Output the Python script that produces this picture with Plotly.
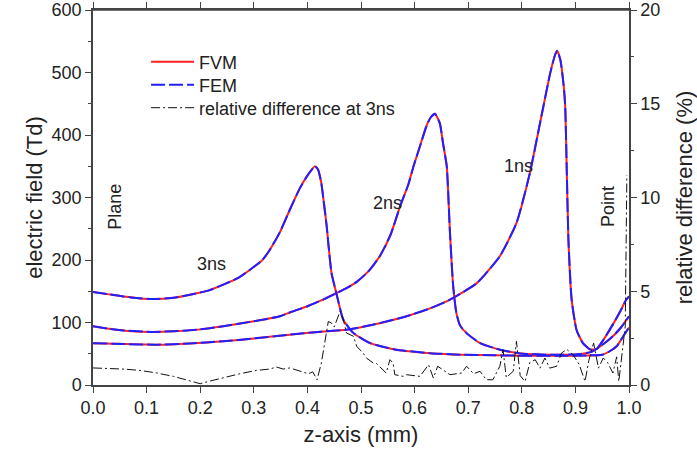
import plotly.graph_objects as go

# ---- data ----
x_3ns = [0.0, 0.03, 0.057, 0.085, 0.112, 0.15, 0.181, 0.215, 0.243, 0.27, 0.293, 0.315, 0.33, 0.349,
         0.367, 0.386, 0.40, 0.414, 0.42, 0.426, 0.43, 0.436, 0.439, 0.445, 0.454, 0.467, 0.486, 0.517,
         0.566, 0.629, 0.685, 0.75, 0.8, 0.85, 0.9, 0.95, 0.964, 0.977, 0.993, 1.0]
e_3ns = [149, 145, 141.5, 139, 137.5, 139.5, 144.5, 151, 160.5, 171, 184.5, 199, 216.5, 245,
         280, 315, 335, 350, 344.5, 323, 296.5, 254, 227, 179, 147, 104.5, 83, 67,
         56.5, 51, 48.5, 47.5, 47, 47, 47, 48.5, 54, 62, 83, 92]

x_2ns = [0.0, 0.03, 0.06, 0.112, 0.15, 0.2, 0.243, 0.3, 0.349, 0.367, 0.40, 0.43, 0.454, 0.473, 0.492,
         0.515, 0.535, 0.555, 0.573, 0.588, 0.598, 0.61, 0.622, 0.63, 0.638, 0.647, 0.653, 0.66, 0.666,
         0.672, 0.678, 0.685, 0.697, 0.722, 0.759, 0.803, 0.85, 0.9, 0.93, 0.95, 0.97, 0.985, 1.0]
e_2ns = [94, 90, 87, 85, 86, 89, 94, 102, 110, 116, 126, 137, 147, 155, 165,
         183, 206, 240, 286, 320, 350, 382, 414, 428, 434, 419, 387, 350, 243,
         158, 115, 95, 83, 67, 56.5, 50, 48.5, 49, 53, 64, 78, 92, 110]

x_1ns = [0.0, 0.06, 0.119, 0.18, 0.243, 0.3, 0.367, 0.42, 0.473, 0.52, 0.585, 0.63, 0.666, 0.716,
         0.759, 0.79, 0.815, 0.834, 0.853, 0.862, 0.866, 0.872, 0.878, 0.881, 0.884, 0.887, 0.893,
         0.902, 0.914, 0.927, 0.94, 0.952, 0.97, 0.985, 0.993, 1.0]
e_1ns = [67, 65.5, 64.5, 66.5, 70, 74.5, 80.5, 85, 88.5, 96, 110, 123, 136.5, 163,
         206, 259, 339, 419, 499, 528, 535, 520, 480, 446, 339, 232, 136.5,
         88.5, 67, 57, 58, 72, 97, 120, 134, 142]

x_diff = [0.0, 0.025, 0.056, 0.0875, 0.119, 0.15, 0.175, 0.2, 0.224, 0.249, 0.274, 0.305, 0.33, 0.342,
          0.355, 0.367, 0.386, 0.402, 0.41, 0.418, 0.426, 0.439, 0.445, 0.45, 0.461, 0.467, 0.473, 0.486,
          0.492, 0.504, 0.51, 0.523, 0.528, 0.547, 0.554, 0.56, 0.563, 0.579, 0.585, 0.61, 0.626, 0.635,
          0.643, 0.655, 0.666, 0.688, 0.697, 0.71, 0.722, 0.734, 0.746, 0.759, 0.765, 0.771, 0.784, 0.79,
          0.797, 0.806, 0.815, 0.825, 0.834, 0.843, 0.852, 0.865, 0.874, 0.884, 0.896, 0.907, 0.918,
          0.925, 0.934, 0.943, 0.952, 0.96, 0.97, 0.977, 0.981, 0.993, 0.996]
d_diff = [0.91, 0.9, 0.85, 0.78, 0.64, 0.46, 0.25, 0.07, 0.25, 0.43, 0.6, 0.78, 0.85, 0.96,
          0.85, 0.91, 0.73, 0.6, 0.7, 0.28, 1.17, 3.39, 3.3, 3.1, 3.93, 3.48, 2.77, 2.6,
          2.06, 1.7, 1.44, 1.17, 1.17, 0.64, 1.35, 1.17, 0.55, 0.46, 0.55, 0.46, 1.08, 0.37,
          1.0, 0.75, 0.55, 0.64, 1.0, 0.6, 0.73, 0.28, 0.28, 1.0, 1.88, 0.4, 0.73, 2.33,
          0.5, 0.19, 1.2, 1.35, 0.9, 1.44, 0.9, 1.0, 1.7, 1.9, 1.6, 1.1, 0.19,
          1.3, 2.24, 0.9, 1.44, 1.2, 0.64, 1.5, 0.19, 3.13, 11.2]

x_ticks = [0.0, 0.1, 0.2, 0.3, 0.4, 0.5, 0.6, 0.7, 0.8, 0.9, 1.0]

FONT = "Liberation Sans, Arial, sans-serif"
RED = "#ff2020"
BLUE = "#2020ff"
AXC = "#444444"

fig = go.Figure()

curves = [(x_1ns, e_1ns), (x_2ns, e_2ns), (x_3ns, e_3ns)]
for i, (xs, ys) in enumerate(curves):
    fig.add_trace(go.Scatter(x=xs, y=ys, mode="lines", name="FVM", showlegend=(i == 0),
                             legend="legend",
                             line=dict(color=RED, width=2, shape="spline", smoothing=0.5)))
for i, (xs, ys) in enumerate(curves):
    fig.add_trace(go.Scatter(x=xs, y=ys, mode="lines", name="FEM", showlegend=(i == 0),
                             legend="legend2",
                             line=dict(color=BLUE, width=2, dash="14px,4px", shape="spline", smoothing=0.5)))

fig.add_trace(go.Scatter(x=x_diff, y=d_diff, mode="lines", name="relative difference at 3ns",
                         yaxis="y2", legend="legend3",
                         line=dict(color="#111111", width=1, dash="9px,3px,2px,3px")))

axis_common = dict(showline=True, linecolor=AXC, linewidth=1.5, ticks="outside",
                   tickcolor=AXC, ticklen=6, tickwidth=1.2, showgrid=False, zeroline=False,
                   automargin=False,
                   tickfont=dict(family=FONT, size=18, color="#222222"))

LX = 0.099
leg_common = dict(x=LX, xanchor="left", yanchor="middle", bgcolor="rgba(0,0,0,0)",
                  font=dict(family=FONT, size=18, color="#222222"), itemwidth=43)

fig.update_layout(
    width=697, height=454,
    margin=dict(l=93, r=68, t=10, b=69, autoexpand=False),
    paper_bgcolor="white", plot_bgcolor="white",
    font=dict(family=FONT, size=18, color="#222222"),
    xaxis=dict(range=[0, 1], tickvals=x_ticks, ticktext=[f"{v:.1f}" for v in x_ticks],
               mirror="ticks", title=dict(text="z-axis (mm)", font=dict(size=22), standoff=9),
               **axis_common),
    yaxis=dict(range=[0, 600], dtick=100, title=dict(text="electric field (Td)", font=dict(size=22), standoff=3),
               minor=dict(dtick=50, ticks="outside", ticklen=3, tickcolor=AXC),
               **axis_common),
    yaxis2=dict(range=[0, 20], dtick=5, overlaying="y", side="right", anchor="x",
                title=dict(text="relative difference (%)", font=dict(size=22), standoff=19),
                minor=dict(dtick=2.5, ticks="outside", ticklen=3, tickcolor=AXC),
                **axis_common),
    legend=dict(y=(385 - 62) / 375, **leg_common),
    legend2=dict(y=(385 - 85) / 375, **leg_common),
    legend3=dict(y=(385 - 108) / 375, **leg_common),
    showlegend=True,
)

# top frame line (mirror)
fig.add_shape(type="line", xref="paper", yref="paper", x0=0, x1=1, y0=1, y1=1,
              line=dict(color=AXC, width=1.5))

ann = [("Plane", 0.041, 285, -90), ("3ns", 0.222, 194, 0), ("2ns", 0.549, 292, 0),
       ("1ns", 0.794, 351, 0), ("Point", 0.961, 285, -90)]
for t, ax_, ay_, ang in ann:
    fig.add_annotation(x=ax_, y=ay_, xref="x", yref="y", text=t, showarrow=False, textangle=ang,
                       font=dict(family=FONT, size=18, color="#222222"))

fig.write_html("out.html")
